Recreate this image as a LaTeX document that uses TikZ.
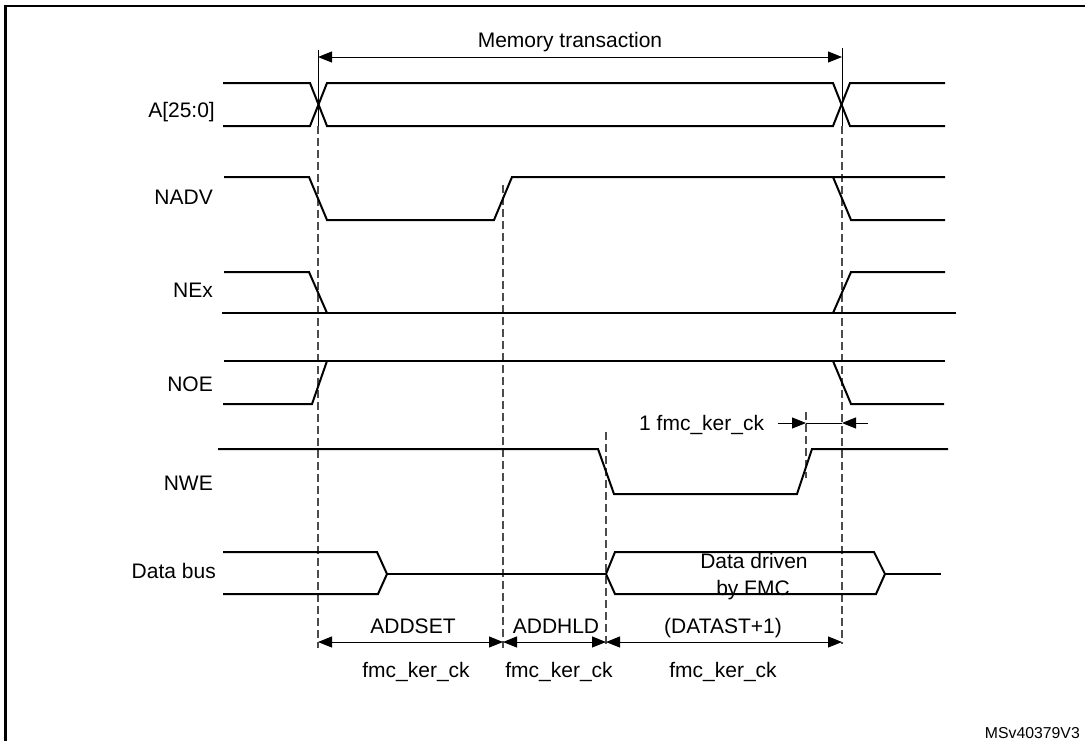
\documentclass[tikz,border=0pt]{standalone}
\usepackage{fontspec}
\setmainfont{Liberation Sans}
\usetikzlibrary{arrows.meta}
\begin{document}
\begin{tikzpicture}[x=1pt,y=-1pt,
  sig/.style={line width=2pt, line join=miter},
  guide/.style={line width=1.2pt, dash pattern=on 8pt off 4pt, black!70},
  tick/.style={line width=1pt},
  dimline/.style={line width=1pt, {Triangle[length=14pt,width=11pt]}-{Triangle[length=14pt,width=11pt]}},
  oneway/.style={line width=1pt, -{Triangle[length=14pt,width=11pt]}},
  lbl/.style={font=\fontsize{21}{25}\selectfont, anchor=base east, inner sep=0pt},
  txt/.style={font=\fontsize{21}{25}\selectfont, anchor=base, inner sep=0pt}]
\useasboundingbox (0,0) rectangle (1085,740);
\clip (0,0) rectangle (1085,740);
\fill[white] (0,0) rectangle (1085,740);
\draw[line width=2.2pt] (5.5,6) rectangle (1100,760);

% time coordinates
\coordinate (mL) at (318,57);
\coordinate (mR) at (842,57);
\coordinate (b0) at (318,642);
\coordinate (b1) at (503,642);
\coordinate (b2) at (606,642);
\coordinate (b3) at (842,642);
\coordinate (k0) at (778,423);
\coordinate (k1) at (806,423);
\coordinate (k2) at (842,423);
\coordinate (k3) at (868,423);

% labels
\node[lbl] (lA) at (215,117) {A[25:0]};
\node[lbl] (lNADV) at (213,204) {NADV};
\node[lbl] (lNEx) at (213,297.5) {NEx};
\node[lbl] (lNOE) at (213,391.5) {NOE};
\node[lbl] (lNWE) at (213,490.5) {NWE};
\node[lbl] (lData) at (216,578) {Data bus};

\node[txt] (tmem) at (570,47) {Memory transaction};
\node[txt] (tset) at (413,633) {ADDSET};
\node[txt] (thld) at (556,633) {ADDHLD};
\node[txt] (tdat) at (723,633) {(DATAST+1)};
\node[txt] (c1) at (416,677) {fmc\_ker\_ck};
\node[txt] (c2) at (559,677) {fmc\_ker\_ck};
\node[txt] (c3) at (723,677) {fmc\_ker\_ck};
\node[txt] (dd1) at (754,568) {Data driven};
\node[txt] (dd2) at (753,595) {by FMC};
\node[txt, anchor=base west] (one) at (639,430) {1 fmc\_ker\_ck};
\node[anchor=base east, inner sep=0pt, font=\fontsize{15.8}{18}\selectfont] (ms) at (1080,738) {MSv40379V3};

% guide lines
\draw[tick] (318,50) -- (318,126);
\draw[tick] (842,48) -- (842,126);
\draw[guide] (318,126) -- (318,648);
\draw[guide] (503,185) -- (503,648);
\draw[guide] (606,432) -- (606,648);
\draw[guide] (806,412) -- (806,478);
\draw[guide] (842,126) -- (842,644);

% A[25:0]
\draw[sig] (223,83) -- (310,83) -- (327,126) -- (833,126) -- (850,83) -- (945,83);
\draw[sig] (223,126) -- (310,126) -- (327,83) -- (833,83) -- (850,126) -- (945,126);
% NADV
\draw[sig] (224,177) -- (309,177) -- (327,220) -- (494,220) -- (512,177) -- (945,177);
\draw[sig] (833,177) -- (851,220) -- (945,220);
% NEx
\draw[sig] (222,313) -- (956,313);
\draw[sig] (224,272) -- (309,272) -- (327,313);
\draw[sig] (833,313) -- (851,272) -- (945,272);
% NOE
\draw[sig] (224,361) -- (945,361);
\draw[sig] (223,404) -- (312,404) -- (327,361);
\draw[sig] (833,361) -- (851,404) -- (944,404);
% NWE
\draw[sig] (218,449) -- (598,449) -- (614,494) -- (797,494) -- (812,449) -- (948,449);
% Data bus
\draw[sig] (223,552) -- (377,552) -- (387,574) -- (378,594) -- (223,594);
\draw[sig] (387,574) -- (606,574);
\draw[sig] (606,574) -- (615,552) -- (874,552) -- (885,574) -- (876,594) -- (615,594) -- cycle;
\draw[sig] (885,574) -- (941,574);

% dimension arrows
\draw[dimline] (mL) -- (mR);
\draw[dimline] (b0) -- (b1);
\draw[dimline] (b1) -- (b2);
\draw[dimline] (b2) -- (b3);
\draw[oneway] (k0) -- (k1);
\draw[tick] (k1) -- (k2);
\draw[oneway] (k3) -- (k2);
\end{tikzpicture}
\end{document}
